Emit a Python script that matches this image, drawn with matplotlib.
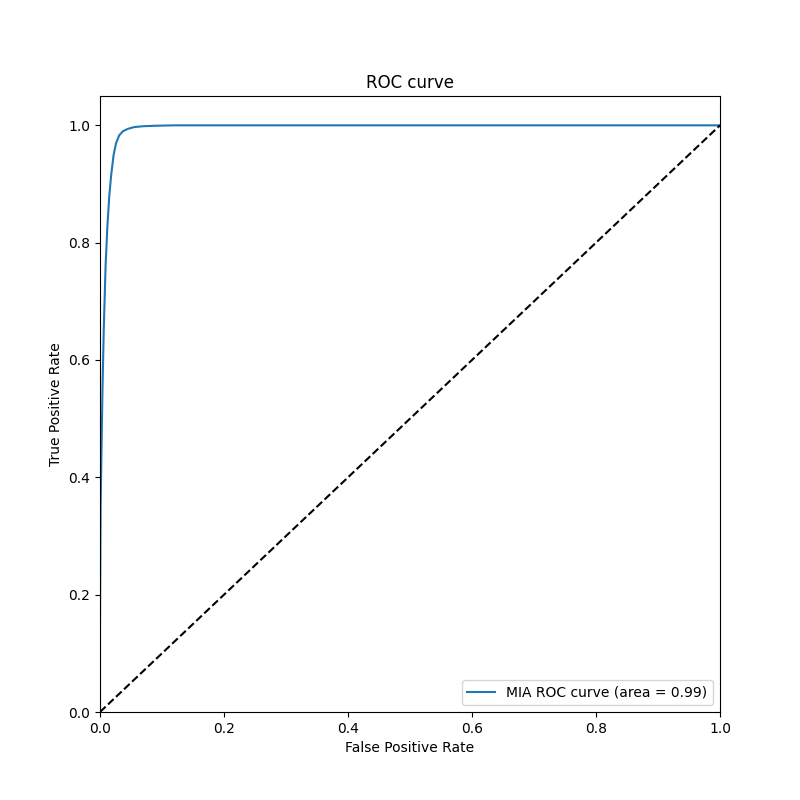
import matplotlib
matplotlib.use("Agg")
import matplotlib.pyplot as plt

# Puntos de la curva ROC
fpr = [0.0, 0.0, 0.001, 0.0025, 0.004, 0.006, 0.009, 0.012, 0.015, 0.018,
       0.022, 0.026, 0.031, 0.037, 0.045, 0.055, 0.07, 0.09, 0.12, 0.2, 1.0]
tpr = [0.0, 0.15, 0.35, 0.45, 0.55, 0.65, 0.76, 0.83, 0.88, 0.915,
       0.95, 0.97, 0.983, 0.99, 0.994, 0.997, 0.9985, 0.9993, 1.0, 1.0, 1.0]
roc_auc = 0.99

diag = [0, 1]

plt.figure(figsize=(8, 8), dpi=100)
plt.plot(fpr, tpr, label=f"MIA ROC curve (area = {roc_auc:.2f})")
plt.plot(diag, diag, "k--")
plt.xlim([0.0, 1.0])
plt.ylim([0.0, 1.05])
plt.xlabel("False Positive Rate")
plt.ylabel("True Positive Rate")
plt.title("ROC curve")
plt.legend(loc="lower right")
plt.savefig("out.png")
